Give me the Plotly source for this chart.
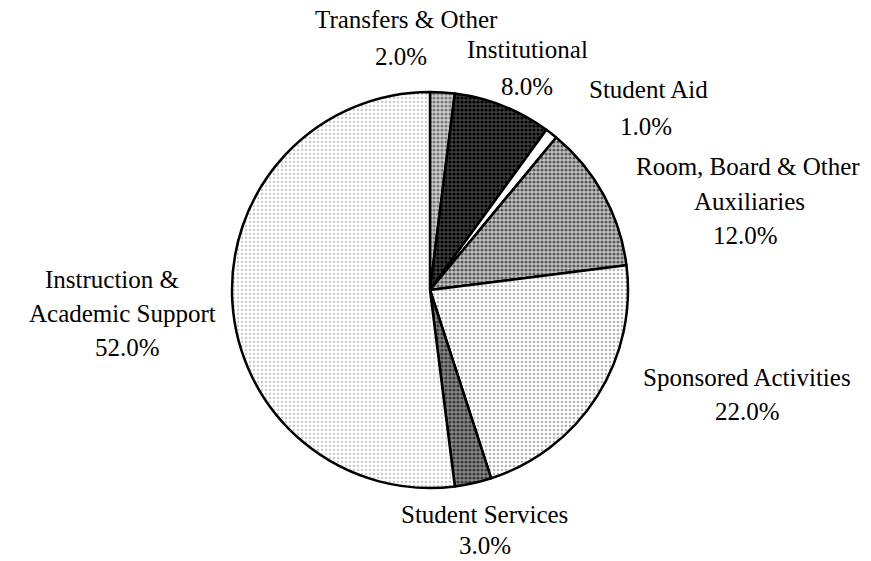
import plotly.graph_objects as go

categories = ["Transfers & Other", "Institutional", "Student Aid",
              "Room, Board & Other Auxiliaries", "Sponsored Activities",
              "Student Services", "Instruction & Academic Support"]
values = [2.0, 8.0, 1.0, 12.0, 22.0, 3.0, 52.0]

# label line breaks as drawn in the reference
label_lines = {
    "Transfers & Other": ["Transfers & Other"],
    "Institutional": ["Institutional"],
    "Student Aid": ["Student Aid"],
    "Room, Board & Other Auxiliaries": ["Room, Board & Other", "Auxiliaries"],
    "Sponsored Activities": ["Sponsored Activities"],
    "Student Services": ["Student Services"],
    "Instruction & Academic Support": ["Instruction &", "Academic Support"],
}
# per-line text centres (pixel x, pixel y); last entry is the percentage line
label_pos = {
    "Transfers & Other": [(406, 20), (401, 56)],
    "Institutional": [(527, 50), (527, 87)],
    "Student Aid": [(648, 90), (646, 126)],
    "Room, Board & Other Auxiliaries": [(748, 166), (749, 201), (745, 235)],
    "Sponsored Activities": [(747, 377), (747, 411)],
    "Student Services": [(485, 514), (485, 545)],
    "Instruction & Academic Support": [(112, 279), (122, 313), (127, 347)],
}

W, H = 871, 561
cx, cy, r = 430, 290, 198

fg = ["#7a7a7a", "#000000", "#ffffff", "#5a5a5a", "#b5b5b5", "#3a3a3a", "#c8c8c8"]
bg = ["#d0d0d0", "#404040", "#ffffff", "#c4c4c4", "#ffffff", "#8a8a8a", "#ffffff"]
sol = [0.5, 0.5, 0.1, 0.5, 0.35, 0.5, 0.25]

fig = go.Figure(go.Pie(
    labels=categories, values=values, sort=False, direction="clockwise",
    rotation=0, textinfo="none", hoverinfo="label+percent",
    marker=dict(colors=bg, line=dict(color="#000000", width=2.5),
                pattern=dict(shape=".", fgcolor=fg, bgcolor=bg, size=4,
                             solidity=sol, fillmode="replace")),
    domain=dict(x=[(cx - r) / W, (cx + r) / W],
                y=[(H - cy - r) / H, (H - cy + r) / H]),
    showlegend=False,
))

font = dict(family="Liberation Serif, Times New Roman, serif", size=25, color="#000000")
annotations = []
for cat, v in zip(categories, values):
    lines = label_lines[cat] + [f"{v:.1f}%"]
    for line, (x, y) in zip(lines, label_pos[cat]):
        annotations.append(dict(
            x=x / W, y=1 - y / H, xref="paper", yref="paper",
            text=line, showarrow=False, xanchor="center", yanchor="middle",
            font=font))

fig.update_layout(
    width=W, height=H, margin=dict(l=0, r=0, t=0, b=0),
    paper_bgcolor="#ffffff", plot_bgcolor="#ffffff",
    annotations=annotations,
)
fig.write_html("out.html", config={"displayModeBar": False},
               post_script="document.body.style.margin='0';document.body.style.overflow='hidden';")
